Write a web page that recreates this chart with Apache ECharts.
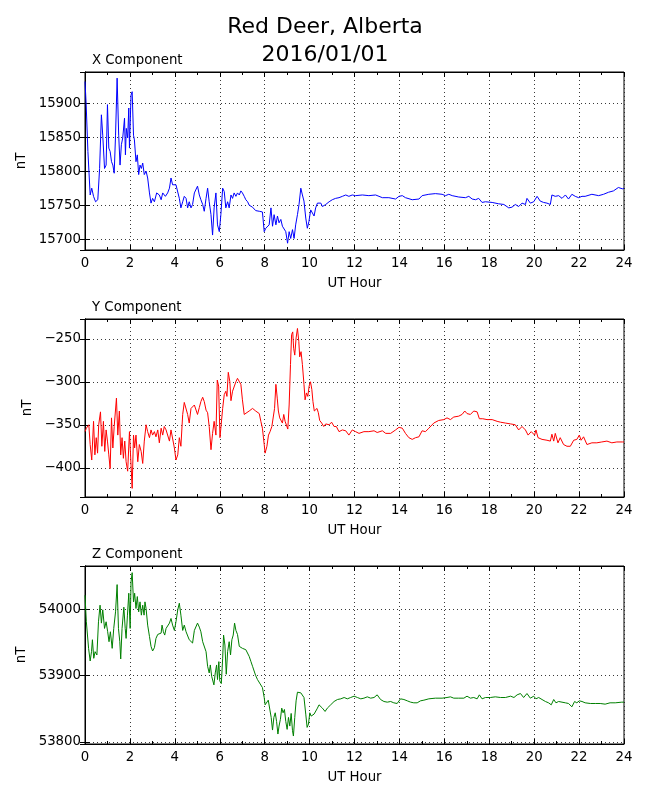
<!DOCTYPE html>
<html>
<head>
<meta charset="utf-8">
<title>Red Deer, Alberta 2016/01/01</title>
<script src="https://cdn.jsdelivr.net/npm/echarts/dist/echarts.min.js"></script>
<style>
  html, body { margin: 0; padding: 0; background: #fff; }
  #chart { width: 650px; height: 800px; }
</style>
</head>
<body>
<div id="chart"></div>
<script>
// magnetometer samples, [UT hour, nT]
const xComponent = [
  [0.00, 15932], [0.05, 15900], [0.13, 15829], [0.23, 15765], [0.30, 15775], [0.38, 15763],
  [0.47, 15755], [0.53, 15753], [0.57, 15758], [0.65, 15804], [0.73, 15883], [0.79, 15853],
  [0.87, 15804], [0.94, 15809], [1.00, 15898], [1.06, 15834], [1.12, 15829], [1.18, 15814],
  [1.24, 15809], [1.30, 15797], [1.36, 15853], [1.43, 15937], [1.50, 15853], [1.56, 15809],
  [1.62, 15839], [1.68, 15849], [1.76, 15878], [1.80, 15824], [1.84, 15863], [1.90, 15849],
  [1.95, 15893], [1.98, 15834], [2.05, 15912], [2.10, 15917], [2.16, 15853], [2.20, 15846],
  [2.27, 15814], [2.33, 15824], [2.39, 15795], [2.45, 15809], [2.51, 15804], [2.57, 15812],
  [2.64, 15795], [2.72, 15800], [2.79, 15790], [2.87, 15768], [2.94, 15753], [3.01, 15760],
  [3.09, 15755], [3.19, 15768], [3.31, 15765], [3.39, 15758], [3.46, 15768], [3.58, 15763],
  [3.68, 15768], [3.76, 15775], [3.83, 15790], [3.90, 15780], [3.98, 15782], [4.05, 15780],
  [4.13, 15782], [4.20, 15760], [4.27, 15746], [4.35, 15755], [4.42, 15763], [4.50, 15760],
  [4.57, 15746], [4.64, 15755], [4.72, 15746], [4.79, 15751], [4.87, 15768], [4.94, 15770],
  [5.01, 15778], [5.09, 15765], [5.16, 15758], [5.24, 15751], [5.31, 15741], [5.39, 15760],
  [5.46, 15775], [5.53, 15755], [5.61, 15736], [5.68, 15706], [5.75, 15746], [5.83, 15768],
  [5.90, 15721], [5.98, 15711], [6.05, 15736], [6.13, 15775], [6.20, 15770], [6.27, 15746],
  [6.35, 15755], [6.42, 15746], [6.50, 15765], [6.57, 15760], [6.64, 15768], [6.72, 15763],
  [6.79, 15768], [6.87, 15765], [6.94, 15771], [7.01, 15768], [7.09, 15763], [7.16, 15758],
  [7.24, 15755], [7.31, 15750], [7.39, 15748], [7.46, 15747], [7.53, 15747], [7.60, 15742],
  [7.76, 15741], [7.90, 15740], [7.98, 15711], [8.05, 15716], [8.13, 15714], [8.20, 15721],
  [8.28, 15746], [8.35, 15719], [8.42, 15736], [8.50, 15721], [8.57, 15734], [8.64, 15724],
  [8.72, 15729], [8.79, 15719], [8.87, 15721], [8.94, 15711], [9.02, 15694], [9.09, 15711],
  [9.16, 15701], [9.24, 15714], [9.31, 15701], [9.38, 15721], [9.46, 15736], [9.53, 15751],
  [9.61, 15775], [9.68, 15765], [9.75, 15756], [9.83, 15731], [9.90, 15716], [9.97, 15726],
  [10.05, 15743], [10.12, 15741], [10.20, 15734], [10.27, 15746], [10.35, 15753], [10.42, 15755],
  [10.50, 15753], [10.57, 15748], [10.72, 15751], [10.87, 15755], [11.01, 15758], [11.16, 15760],
  [11.31, 15761], [11.46, 15763], [11.61, 15765], [11.75, 15763], [11.90, 15765], [12.05, 15764],
  [12.35, 15765], [12.64, 15764], [12.94, 15765], [13.09, 15763], [13.24, 15761], [13.53, 15761],
  [13.83, 15759], [13.98, 15763], [14.13, 15764], [14.27, 15761], [14.57, 15758], [14.87, 15759],
  [15.01, 15764], [15.31, 15766], [15.60, 15767], [15.90, 15766], [16.05, 15764], [16.20, 15766],
  [16.35, 15764], [16.64, 15762], [16.94, 15761], [17.09, 15763], [17.24, 15759], [17.39, 15758],
  [17.53, 15760], [17.68, 15754], [17.83, 15755], [18.13, 15754], [18.42, 15752], [18.65, 15751],
  [18.87, 15746], [19.01, 15747], [19.16, 15751], [19.31, 15748], [19.46, 15753], [19.61, 15751],
  [19.68, 15760], [19.83, 15753], [19.98, 15755], [20.13, 15763], [20.27, 15756], [20.42, 15754],
  [20.57, 15753], [20.72, 15751], [20.79, 15765], [20.94, 15763], [21.09, 15764], [21.24, 15760],
  [21.39, 15765], [21.53, 15759], [21.68, 15766], [21.83, 15763], [21.98, 15761], [22.13, 15763],
  [22.27, 15763], [22.57, 15766], [22.87, 15764], [23.09, 15766], [23.31, 15769], [23.53, 15771],
  [23.75, 15776], [23.93, 15774], [24.00, 15775]
];

const yComponent = [
  [0.00, -358], [0.06, -354], [0.17, -350], [0.23, -373], [0.30, -391], [0.38, -346],
  [0.44, -385], [0.50, -365], [0.56, -383], [0.61, -350], [0.69, -335], [0.75, -375],
  [0.82, -346], [0.88, -381], [0.94, -356], [1.00, -369], [1.06, -385], [1.12, -401],
  [1.18, -342], [1.24, -377], [1.30, -352], [1.36, -354], [1.40, -319], [1.46, -362],
  [1.53, -334], [1.59, -385], [1.65, -365], [1.71, -389], [1.77, -369], [1.83, -393],
  [1.90, -404], [1.98, -358], [2.05, -397], [2.10, -424], [2.16, -362], [2.21, -377],
  [2.27, -362], [2.35, -393], [2.42, -373], [2.50, -381], [2.57, -395], [2.64, -369],
  [2.72, -350], [2.79, -358], [2.87, -365], [2.94, -356], [3.01, -362], [3.09, -358],
  [3.16, -364], [3.24, -356], [3.31, -371], [3.39, -354], [3.46, -362], [3.53, -352],
  [3.61, -356], [3.68, -354], [3.76, -369], [3.83, -356], [3.90, -356], [3.98, -377],
  [4.05, -391], [4.13, -385], [4.20, -365], [4.27, -375], [4.35, -338], [4.42, -324],
  [4.50, -323], [4.57, -338], [4.64, -348], [4.72, -331], [4.79, -330], [4.87, -327],
  [4.94, -329], [5.01, -338], [5.09, -330], [5.16, -323], [5.24, -318], [5.31, -323],
  [5.39, -333], [5.46, -336], [5.53, -352], [5.61, -379], [5.68, -360], [5.75, -346],
  [5.83, -362], [5.89, -298], [5.95, -305], [6.01, -365], [6.07, -367], [6.13, -331],
  [6.20, -315], [6.27, -311], [6.32, -317], [6.38, -289], [6.45, -300], [6.50, -322],
  [6.57, -311], [6.64, -313], [6.72, -300], [6.79, -296], [6.87, -295], [6.94, -303],
  [7.01, -321], [7.09, -338], [7.16, -337], [7.31, -334], [7.46, -331], [7.60, -334],
  [7.76, -337], [7.83, -346], [7.90, -354], [7.98, -373], [8.02, -383], [8.10, -375],
  [8.17, -362], [8.24, -358], [8.32, -352], [8.38, -354], [8.44, -331], [8.50, -303],
  [8.56, -319], [8.61, -334], [8.67, -342], [8.73, -343], [8.79, -348], [8.85, -338],
  [8.91, -346], [8.97, -344], [9.03, -355], [9.09, -327], [9.15, -280], [9.20, -245],
  [9.25, -242], [9.29, -261], [9.34, -269], [9.40, -249], [9.46, -238], [9.52, -253],
  [9.56, -271], [9.62, -265], [9.68, -280], [9.75, -303], [9.80, -321], [9.86, -313],
  [9.92, -317], [9.98, -305], [10.04, -300], [10.10, -309], [10.15, -323], [10.21, -334],
  [10.27, -334], [10.33, -331], [10.39, -336], [10.45, -345], [10.54, -348], [10.63, -352],
  [10.72, -349], [10.87, -350], [10.98, -347], [11.09, -352], [11.19, -352], [11.31, -358],
  [11.46, -356], [11.61, -357], [11.75, -362], [11.90, -356], [12.05, -358], [12.20, -360],
  [12.42, -358], [12.64, -358], [12.87, -357], [13.01, -359], [13.24, -357], [13.39, -360],
  [13.61, -360], [13.83, -356], [13.98, -353], [14.13, -354], [14.27, -360], [14.42, -365],
  [14.57, -367], [14.72, -365], [14.87, -364], [15.01, -357], [15.16, -358], [15.31, -354],
  [15.53, -348], [15.75, -345], [15.98, -344], [16.12, -342], [16.27, -344], [16.42, -341],
  [16.64, -340], [16.79, -338], [16.91, -334], [17.01, -337], [17.16, -338], [17.31, -334],
  [17.46, -335], [17.56, -343], [17.71, -343], [17.90, -344], [18.13, -344], [18.35, -346],
  [18.50, -347], [18.72, -348], [18.95, -349], [19.16, -350], [19.31, -356], [19.46, -352],
  [19.61, -356], [19.73, -362], [19.87, -358], [20.02, -362], [20.08, -356], [20.17, -365],
  [20.35, -367], [20.57, -368], [20.72, -369], [20.79, -361], [20.87, -369], [20.94, -360],
  [21.06, -371], [21.16, -365], [21.31, -373], [21.46, -375], [21.61, -375], [21.76, -368],
  [21.90, -367], [22.01, -362], [22.09, -368], [22.20, -364], [22.35, -373], [22.57, -371],
  [22.79, -371], [23.01, -370], [23.24, -369], [23.46, -371], [23.68, -370], [23.93, -370],
  [24.00, -370]
];

const zComponent = [
  [0.00, 54021], [0.06, 53981], [0.16, 53941], [0.23, 53922], [0.29, 53936], [0.33, 53954],
  [0.39, 53926], [0.45, 53936], [0.53, 53931], [0.60, 53981], [0.67, 54006], [0.73, 53979],
  [0.79, 53999], [0.87, 53971], [0.94, 53981], [1.01, 53966], [1.07, 53951], [1.13, 53966],
  [1.21, 53941], [1.28, 53971], [1.36, 53996], [1.43, 54037], [1.49, 53971], [1.55, 53951],
  [1.59, 53925], [1.65, 53971], [1.73, 54003], [1.79, 53971], [1.83, 53956], [1.89, 53991],
  [1.95, 54024], [2.01, 53971], [2.05, 54041], [2.10, 54055], [2.16, 54011], [2.21, 54024],
  [2.27, 54001], [2.33, 54019], [2.39, 53996], [2.45, 54011], [2.51, 53991], [2.57, 54006],
  [2.63, 53991], [2.67, 54011], [2.72, 54001], [2.79, 53976], [2.87, 53959], [2.94, 53944],
  [3.01, 53937], [3.09, 53942], [3.16, 53956], [3.24, 53962], [3.31, 53959], [3.39, 53964],
  [3.43, 53976], [3.49, 53966], [3.55, 53961], [3.61, 53971], [3.68, 53973], [3.76, 53979],
  [3.83, 53986], [3.90, 53976], [3.98, 53968], [4.05, 53981], [4.13, 53999], [4.20, 54009],
  [4.27, 53991], [4.35, 53968], [4.42, 53976], [4.50, 53966], [4.57, 53968], [4.64, 53954],
  [4.72, 53956], [4.79, 53949], [4.87, 53968], [4.94, 53971], [5.01, 53979], [5.09, 53973],
  [5.16, 53966], [5.24, 53951], [5.31, 53951], [5.39, 53936], [5.46, 53914], [5.53, 53904],
  [5.58, 53916], [5.64, 53899], [5.68, 53896], [5.74, 53886], [5.80, 53904], [5.86, 53916],
  [5.90, 53894], [5.96, 53921], [6.00, 53892], [6.07, 53888], [6.13, 53926], [6.17, 53961],
  [6.23, 53946], [6.29, 53902], [6.35, 53936], [6.42, 53951], [6.48, 53931], [6.54, 53954],
  [6.60, 53961], [6.66, 53979], [6.72, 53968], [6.79, 53962], [6.87, 53944], [6.94, 53942],
  [7.01, 53941], [7.09, 53940], [7.16, 53939], [7.24, 53936], [7.31, 53929], [7.39, 53921],
  [7.46, 53914], [7.53, 53911], [7.60, 53900], [7.68, 53894], [7.76, 53891], [7.90, 53882],
  [7.98, 53867], [8.02, 53856], [8.10, 53859], [8.16, 53863], [8.23, 53864], [8.29, 53837],
  [8.35, 53818], [8.41, 53837], [8.47, 53844], [8.53, 53831], [8.59, 53812], [8.64, 53824],
  [8.70, 53834], [8.76, 53851], [8.82, 53844], [8.88, 53849], [8.94, 53831], [9.00, 53819],
  [9.06, 53837], [9.12, 53824], [9.18, 53843], [9.24, 53817], [9.28, 53809], [9.34, 53837],
  [9.40, 53862], [9.46, 53875], [9.53, 53873], [9.61, 53874], [9.68, 53872], [9.75, 53867],
  [9.83, 53842], [9.89, 53822], [9.95, 53827], [10.01, 53844], [10.07, 53839], [10.13, 53837],
  [10.20, 53842], [10.27, 53844], [10.35, 53851], [10.42, 53856], [10.50, 53854], [10.57, 53851],
  [10.69, 53846], [10.79, 53851], [10.94, 53856], [11.09, 53861], [11.24, 53864], [11.39, 53865],
  [11.54, 53867], [11.68, 53865], [11.83, 53867], [11.98, 53869], [12.13, 53867], [12.28, 53865],
  [12.42, 53866], [12.57, 53868], [12.72, 53866], [12.87, 53867], [13.01, 53871], [13.16, 53864],
  [13.31, 53861], [13.46, 53860], [13.61, 53861], [13.75, 53859], [13.90, 53858], [14.05, 53865],
  [14.20, 53864], [14.35, 53862], [14.50, 53860], [14.64, 53859], [14.79, 53859], [14.94, 53862],
  [15.09, 53863], [15.31, 53865], [15.60, 53866], [15.90, 53866], [16.12, 53867], [16.27, 53868],
  [16.42, 53866], [16.64, 53866], [16.87, 53866], [17.01, 53869], [17.16, 53866], [17.31, 53867],
  [17.46, 53865], [17.56, 53871], [17.68, 53865], [17.83, 53867], [18.05, 53867], [18.27, 53868],
  [18.50, 53867], [18.72, 53867], [18.95, 53869], [19.10, 53867], [19.24, 53871], [19.39, 53873],
  [19.53, 53867], [19.68, 53873], [19.83, 53866], [19.98, 53869], [20.08, 53865], [20.20, 53867],
  [20.35, 53864], [20.50, 53861], [20.64, 53859], [20.76, 53856], [20.87, 53864], [20.97, 53859],
  [21.09, 53861], [21.24, 53860], [21.39, 53859], [21.53, 53858], [21.68, 53853], [21.80, 53861],
  [21.90, 53859], [22.01, 53862], [22.13, 53861], [22.27, 53859], [22.50, 53858], [22.72, 53858],
  [22.94, 53858], [23.16, 53857], [23.38, 53859], [23.61, 53859], [23.90, 53860], [24.00, 53860]
];

const panelTitles = ['X Component', 'Y Component', 'Z Component'];
const hourTicks = { min: 0, max: 24, step: 2 };
const yRanges = [[15684, 15946], [-434, -227], [53797, 54065]];

// layout / style per panel
const panelStyle = [
  { color: '#0000ff', top: 72, split: 5, nameGap: 54 },
  { color: '#ff0000', top: 319, split: 5, nameGap: 48 },
  { color: '#008000', top: 566, split: 3, nameGap: 54 }
];
const panelData = [xComponent, yComponent, zComponent];

const FONT = 'DejaVu Sans';
const txt = { color: '#000', fontFamily: FONT, fontSize: 13.3 };
const gridLine = { show: true, lineStyle: { color: '#222', width: 0.9, type: [1, 3] } };
const frame = { show: true, lineStyle: { color: '#000', width: 1 } };

const chart = echarts.init(document.getElementById('chart'), null, { renderer: 'canvas' });

const grid = [], xAxis = [], yAxis = [], series = [];
const title = [{
  text: 'Red Deer, Alberta\n2016/01/01',
  left: 'center', top: 13, padding: 0,
  textStyle: { color: '#000', fontFamily: FONT, fontSize: 22, fontWeight: 'normal', lineHeight: 28 }
}];

panelStyle.forEach(function (p, i) {
  grid.push({ left: 85, top: p.top, width: 539, height: 178, show: true,
    borderColor: '#000', borderWidth: 1, backgroundColor: '#fff' });
  title.push({ text: panelTitles[i], left: 92, top: p.top - 18, padding: 0,
    textStyle: Object.assign({ fontWeight: 'normal' }, txt) });

  const xBase = {
    type: 'value', gridIndex: i,
    min: hourTicks.min, max: hourTicks.max, interval: hourTicks.step,
    axisLine: frame,
    axisTick: { show: true, inside: true, length: 5, lineStyle: { color: '#000' } },
    minorTick: { show: true, splitNumber: 2, length: 3, lineStyle: { color: '#000' } }
  };
  xAxis.push(Object.assign({}, xBase, {
    position: 'bottom',
    name: 'UT Hour', nameLocation: 'middle', nameGap: 27, nameTextStyle: txt,
    axisLabel: Object.assign({ margin: 7 }, txt),
    splitLine: gridLine
  }));
  xAxis.push(Object.assign({}, xBase, {
    position: 'top', axisLabel: { show: false }, splitLine: { show: false }
  }));

  const yBase = {
    type: 'value', gridIndex: i, scale: true,
    min: yRanges[i][0], max: yRanges[i][1], splitNumber: p.split,
    axisLine: frame,
    axisTick: { show: true, inside: true, length: 5, lineStyle: { color: '#000' } }
  };
  yAxis.push(Object.assign({}, yBase, {
    position: 'left',
    name: 'nT', nameLocation: 'middle', nameGap: p.nameGap, nameTextStyle: txt,
    axisLabel: Object.assign({
      margin: 4, showMinLabel: false, showMaxLabel: false,
      formatter: function (v) { return String(v).replace('-', '\u2212'); }
    }, txt),
    splitLine: gridLine
  }));
  yAxis.push(Object.assign({}, yBase, {
    position: 'right', axisLabel: { show: false }, splitLine: { show: false }
  }));

  series.push({
    type: 'line', xAxisIndex: i * 2, yAxisIndex: i * 2,
    data: panelData[i], showSymbol: false, symbol: 'none',
    lineStyle: { color: p.color, width: 1 }, itemStyle: { color: p.color },
    clip: true, z: 3
  });
});

chart.setOption({
  backgroundColor: '#fff',
  animation: false,
  title: title,
  grid: grid,
  xAxis: xAxis,
  yAxis: yAxis,
  series: series
});
</script>
</body>
</html>
